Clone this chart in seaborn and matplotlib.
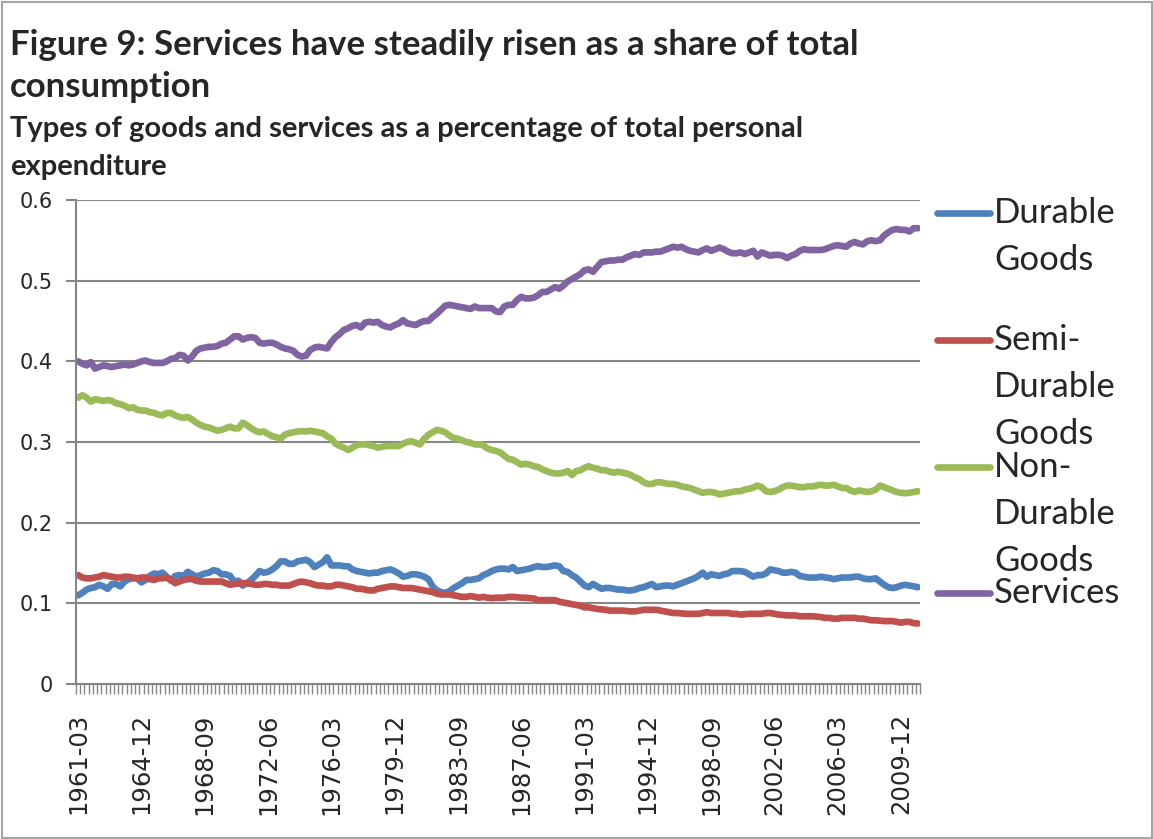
import matplotlib
matplotlib.use("Agg")
import matplotlib.pyplot as plt
from matplotlib.lines import Line2D
from matplotlib.patches import Rectangle
from matplotlib.ticker import FixedLocator
import numpy as np
import pandas as pd
import seaborn as sns

# Quarterly shares of total personal expenditure, 1961-03 to 2010-12
quarters = [f"{1961 + q // 4}-{3 * (q % 4 + 1):02d}" for q in range(200)]

durable = [
    0.110, 0.113, 0.117, 0.119, 0.120, 0.123, 0.121, 0.118, 0.124, 0.124,
    0.121, 0.127, 0.130, 0.131, 0.131, 0.126, 0.129, 0.134, 0.137, 0.136,
    0.138, 0.133, 0.128, 0.134, 0.135, 0.134, 0.139, 0.136, 0.133, 0.135,
    0.137, 0.138, 0.141, 0.140, 0.136, 0.136, 0.134, 0.127, 0.128, 0.122,
    0.125, 0.129, 0.134, 0.140, 0.138, 0.139, 0.142, 0.146, 0.152, 0.152,
    0.149, 0.149, 0.152, 0.153, 0.154, 0.151, 0.145, 0.148, 0.151, 0.157,
    0.147, 0.147, 0.147, 0.146, 0.146, 0.142, 0.140, 0.139, 0.138, 0.137,
    0.138, 0.138, 0.140, 0.141, 0.142, 0.140, 0.137, 0.133, 0.134, 0.136,
    0.136, 0.135, 0.133, 0.130, 0.121, 0.116, 0.114, 0.113, 0.115, 0.119,
    0.122, 0.125, 0.129, 0.129, 0.130, 0.131, 0.135, 0.137, 0.140, 0.142,
    0.143, 0.143, 0.142, 0.145, 0.140, 0.141, 0.142, 0.143, 0.145, 0.146,
    0.145, 0.145, 0.146, 0.147, 0.146, 0.140, 0.139, 0.135, 0.132, 0.127,
    0.122, 0.120, 0.124, 0.121, 0.118, 0.119, 0.119, 0.118, 0.117, 0.117,
    0.116, 0.116, 0.117, 0.119, 0.120, 0.122, 0.124, 0.120, 0.121, 0.122,
    0.122, 0.121, 0.123, 0.125, 0.127, 0.129, 0.131, 0.134, 0.138, 0.133,
    0.136, 0.135, 0.134, 0.136, 0.137, 0.140, 0.140, 0.140, 0.139, 0.136,
    0.133, 0.135, 0.135, 0.137, 0.142, 0.141, 0.140, 0.138, 0.138, 0.139,
    0.138, 0.134, 0.133, 0.132, 0.132, 0.132, 0.133, 0.132, 0.1315, 0.130,
    0.131, 0.132, 0.132, 0.132, 0.133, 0.133, 0.131, 0.130, 0.130, 0.131,
    0.127, 0.123, 0.120, 0.119, 0.120, 0.122, 0.123, 0.122, 0.121, 0.120,
]

semi_durable = [
    0.135, 0.132, 0.131, 0.131, 0.132, 0.133, 0.135, 0.134, 0.133, 0.132,
    0.132, 0.133, 0.133, 0.132, 0.131, 0.132, 0.132, 0.130, 0.129, 0.131,
    0.131, 0.132, 0.129, 0.125, 0.127, 0.129, 0.130, 0.130, 0.128, 0.127,
    0.127, 0.127, 0.127, 0.127, 0.127, 0.125, 0.123, 0.124, 0.1245, 0.125,
    0.125, 0.124, 0.123, 0.123, 0.124, 0.124, 0.123, 0.123, 0.122, 0.122,
    0.122, 0.124, 0.126, 0.127, 0.126, 0.125, 0.123, 0.122, 0.122, 0.121,
    0.121, 0.123, 0.123, 0.122, 0.121, 0.120, 0.118, 0.118, 0.117, 0.116,
    0.116, 0.118, 0.119, 0.120, 0.121, 0.121, 0.120, 0.119, 0.119, 0.119,
    0.118, 0.117, 0.116, 0.115, 0.114, 0.112, 0.111, 0.111, 0.111, 0.110,
    0.109, 0.108, 0.108, 0.109, 0.108, 0.107, 0.108, 0.107, 0.1065, 0.107,
    0.107, 0.107, 0.108, 0.108, 0.1075, 0.107, 0.107, 0.1065, 0.106, 0.104,
    0.104, 0.104, 0.104, 0.104, 0.102, 0.101, 0.100, 0.099, 0.098, 0.097,
    0.095, 0.095, 0.094, 0.093, 0.0925, 0.092, 0.091, 0.091, 0.091, 0.091,
    0.0905, 0.090, 0.090, 0.091, 0.092, 0.092, 0.092, 0.092, 0.091, 0.090,
    0.089, 0.088, 0.088, 0.0875, 0.087, 0.087, 0.087, 0.087, 0.088, 0.089,
    0.088, 0.088, 0.088, 0.088, 0.088, 0.087, 0.087, 0.086, 0.0865, 0.087,
    0.087, 0.087, 0.087, 0.088, 0.088, 0.087, 0.086, 0.0855, 0.085, 0.085,
    0.085, 0.084, 0.084, 0.084, 0.084, 0.0835, 0.083, 0.082, 0.082, 0.081,
    0.081, 0.082, 0.082, 0.082, 0.082, 0.081, 0.081, 0.080, 0.079, 0.079,
    0.0785, 0.078, 0.078, 0.078, 0.077, 0.076, 0.077, 0.077, 0.0755, 0.075,
]

non_durable = [
    0.355, 0.358, 0.355, 0.350, 0.353, 0.352, 0.351, 0.352, 0.351, 0.348,
    0.347, 0.345, 0.342, 0.343, 0.340, 0.339, 0.339, 0.337, 0.336, 0.334,
    0.333, 0.336, 0.336, 0.333, 0.331, 0.330, 0.331, 0.328, 0.324, 0.321,
    0.319, 0.318, 0.316, 0.314, 0.315, 0.317, 0.319, 0.317, 0.317, 0.324,
    0.321, 0.317, 0.314, 0.312, 0.313, 0.310, 0.307, 0.306, 0.304, 0.309,
    0.311, 0.312, 0.313, 0.3135, 0.313, 0.314, 0.313, 0.312, 0.311, 0.307,
    0.304, 0.298, 0.295, 0.293, 0.290, 0.293, 0.296, 0.297, 0.297, 0.296,
    0.295, 0.293, 0.294, 0.295, 0.295, 0.295, 0.295, 0.298, 0.300, 0.301,
    0.299, 0.297, 0.304, 0.309, 0.312, 0.315, 0.314, 0.312, 0.308, 0.305,
    0.304, 0.302, 0.300, 0.299, 0.297, 0.297, 0.296, 0.292, 0.290, 0.289,
    0.287, 0.283, 0.279, 0.278, 0.275, 0.272, 0.273, 0.272, 0.270, 0.269,
    0.266, 0.264, 0.262, 0.261, 0.261, 0.262, 0.264, 0.259, 0.264, 0.265,
    0.268, 0.270, 0.268, 0.267, 0.265, 0.265, 0.263, 0.262, 0.263, 0.262,
    0.261, 0.259, 0.256, 0.254, 0.250, 0.248, 0.248, 0.250, 0.250, 0.249,
    0.248, 0.248, 0.247, 0.245, 0.244, 0.243, 0.241, 0.239, 0.237, 0.238,
    0.238, 0.237, 0.235, 0.236, 0.237, 0.238, 0.239, 0.239, 0.241, 0.242,
    0.2435, 0.246, 0.244, 0.239, 0.238, 0.239, 0.241, 0.244, 0.246, 0.246,
    0.245, 0.244, 0.244, 0.245, 0.245, 0.246, 0.247, 0.246, 0.246, 0.247,
    0.245, 0.243, 0.243, 0.240, 0.238, 0.240, 0.239, 0.238, 0.239, 0.241,
    0.246, 0.244, 0.242, 0.240, 0.238, 0.237, 0.2365, 0.237, 0.238, 0.239,
]

services = [
    0.400, 0.397, 0.395, 0.399, 0.391, 0.393, 0.395, 0.394, 0.393, 0.394,
    0.395, 0.396, 0.395, 0.396, 0.398, 0.400, 0.401, 0.399, 0.398, 0.398,
    0.398, 0.400, 0.403, 0.404, 0.408, 0.407, 0.401, 0.406, 0.413, 0.416,
    0.417, 0.418, 0.418, 0.419, 0.422, 0.423, 0.427, 0.431, 0.431, 0.427,
    0.429, 0.430, 0.429, 0.423, 0.422, 0.423, 0.423, 0.421, 0.418, 0.416,
    0.415, 0.413, 0.408, 0.406, 0.407, 0.414, 0.417, 0.418, 0.417, 0.416,
    0.424, 0.430, 0.434, 0.439, 0.441, 0.444, 0.445, 0.442, 0.448, 0.449,
    0.448, 0.449, 0.445, 0.443, 0.442, 0.445, 0.447, 0.451, 0.447, 0.446,
    0.445, 0.448, 0.450, 0.450, 0.455, 0.459, 0.464, 0.469, 0.470, 0.469,
    0.468, 0.467, 0.466, 0.465, 0.468, 0.466, 0.466, 0.466, 0.466, 0.462,
    0.461, 0.468, 0.470, 0.470, 0.476, 0.480, 0.478, 0.478, 0.479, 0.482,
    0.486, 0.486, 0.489, 0.492, 0.490, 0.494, 0.499, 0.502, 0.505, 0.508,
    0.513, 0.514, 0.511, 0.517, 0.523, 0.524, 0.525, 0.525, 0.526, 0.526,
    0.529, 0.531, 0.533, 0.532, 0.535, 0.535, 0.535, 0.536, 0.536, 0.538,
    0.540, 0.542, 0.541, 0.542, 0.539, 0.537, 0.536, 0.535, 0.538, 0.540,
    0.537, 0.539, 0.541, 0.539, 0.536, 0.534, 0.534, 0.535, 0.533, 0.535,
    0.537, 0.530, 0.535, 0.533, 0.531, 0.532, 0.532, 0.531, 0.528, 0.531,
    0.533, 0.537, 0.539, 0.538, 0.538, 0.538, 0.538, 0.539, 0.541, 0.543,
    0.544, 0.543, 0.542, 0.546, 0.548, 0.546, 0.545, 0.549, 0.550, 0.549,
    0.550, 0.556, 0.560, 0.563, 0.564, 0.563, 0.563, 0.561, 0.565, 0.565,
]

series_names = ["Durable Goods", "Semi-Durable Goods", "Non-Durable Goods", "Services"]
legend_lines = [["Durable", "Goods"], ["Semi-", "Durable", "Goods"],
                ["Non-", "Durable", "Goods"], ["Services"]]
colors = ["#4F81BD", "#C0504D", "#9BBB59", "#8064A2"]
y_ticks = [0, 0.1, 0.2, 0.3, 0.4, 0.5, 0.6]
y_tick_labels = ["0", "0.1", "0.2", "0.3", "0.4", "0.5", "0.6"]
label_step = 15

title_lines = ["Figure 9: Services have steadily risen as a share of total",
               "consumption"]
subtitle_lines = ["Types of goods and services as a percentage of total personal",
                  "expenditure"]

df = pd.concat(
    [pd.DataFrame({"pos": np.arange(len(quarters)), "quarter": quarters,
                   "share": vals, "series": name})
     for name, vals in zip(series_names, [durable, semi_durable, non_durable, services])],
    ignore_index=True,
)

sns.set_style("white")
plt.rcParams["font.family"] = ["DejaVu Sans"]

W, H = 1153, 839
fig = plt.figure(figsize=(W / 100, H / 100), dpi=100)
ax = fig.add_axes([76 / W, 1 - 684 / H, (920 - 76) / W, (684 - 200) / H])

grey = "#868686"
sns.lineplot(data=df, x="pos", y="share", hue="series", hue_order=series_names,
             palette=colors, linewidth=4.8, legend=False, ax=ax,
             solid_capstyle="round", solid_joinstyle="round")

n = len(quarters)
ax.set_xlim(-0.5, n - 0.5)
ax.set_ylim(0, 0.6)
ax.set_xlabel("")
ax.set_ylabel("")

ax.set_yticks(y_ticks)
ax.set_yticklabels(y_tick_labels)
ax.yaxis.grid(True, color=grey, linewidth=1.5)
ax.xaxis.grid(False)
ax.set_axisbelow(True)

major = list(range(0, n, label_step))
ax.set_xticks(major)
ax.set_xticklabels([quarters[i] for i in major], rotation=90, fontsize=17.5)
ax.xaxis.set_minor_locator(FixedLocator(np.arange(-0.5, n, 1.0)))
ax.tick_params(axis="x", which="major", bottom=True, length=0, pad=21)
ax.tick_params(axis="x", which="minor", bottom=True, length=7, width=1.0,
               color=grey, direction="out")
ax.tick_params(axis="y", which="major", left=True, length=7, width=1.5,
               color=grey, direction="out", labelsize=15, pad=10)

for side in ["top", "right"]:
    ax.spines[side].set_visible(False)
for side in ["left", "bottom"]:
    ax.spines[side].set_color(grey)
    ax.spines[side].set_linewidth(1.5)

# Title block, one text per line on fixed baselines
for txt, base in zip(title_lines, [55, 97]):
    fig.text(10 / W, 1 - base / H, txt, ha="left", va="baseline", fontsize=25,
             fontweight="bold", family=["Lato", "DejaVu Sans"])
for txt, base in zip(subtitle_lines, [137, 175]):
    fig.text(10 / W, 1 - base / H, txt, ha="left", va="baseline", fontsize=21,
             fontweight="bold", family=["Lato", "DejaVu Sans"])

# Legend on the right: coloured key followed by wrapped label lines
slot_top = 213
slot_step = 127
line_step = 47
for k, (lines, col) in enumerate(zip(legend_lines, colors)):
    y0 = slot_top + k * slot_step - (1 if k == 3 else 0)
    fig.add_artist(Line2D([937 / W, 990 / W], [1 - y0 / H, 1 - y0 / H],
                          transform=fig.transFigure, color=col, linewidth=4.8,
                          solid_capstyle="round"))
    for j, txt in enumerate(lines):
        fig.text(994 / W, 1 - (y0 + j * line_step) / H, txt, ha="left",
                 va="center", fontsize=25, family=["Lato", "DejaVu Sans"])

# Outer frame
fig.add_artist(Rectangle((1.5 / W, 1.5 / H), 1 - 3 / W, 1 - 3 / H,
                         transform=fig.transFigure, fill=False,
                         edgecolor="#A6A6A6", linewidth=1.5))

fig.savefig("out.png", dpi=100)
